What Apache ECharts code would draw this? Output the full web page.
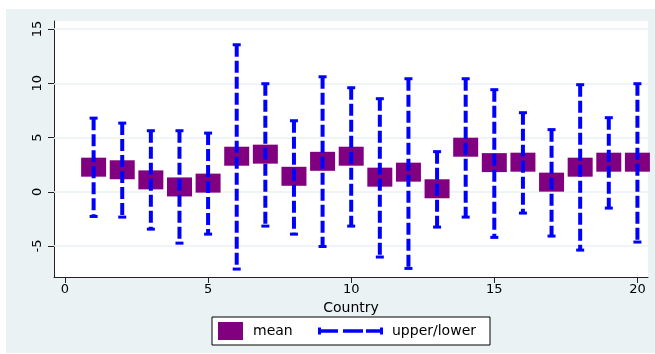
<!DOCTYPE html>
<html>
<head>
<meta charset="utf-8">
<script src="https://cdn.jsdelivr.net/npm/echarts@6/dist/echarts.min.js"></script>
<style>
  html, body { margin: 0; padding: 0; background: #ffffff; }
  #chart { width: 655px; height: 354px; }
</style>
</head>
<body>
<div id="chart"></div>
<script>
// Country index, group means and confidence bounds
const countries = [1, 2, 3, 4, 5, 6, 7, 8, 9, 10, 11, 12, 13, 14, 15, 16, 17, 18, 19, 20];
const meanValues = [2.27, 2.03, 1.10, 0.45, 0.80, 3.28, 3.47, 1.43, 2.81, 3.28,
                    1.35, 1.81, 0.28, 4.11, 2.69, 2.73, 0.89, 2.27, 2.73, 2.73];
const upperValues = [6.79, 6.33, 5.63, 5.63, 5.41, 13.55, 9.96, 6.55, 10.60, 9.59,
                     8.58, 10.42, 3.70, 10.42, 9.41, 7.29, 5.73, 9.87, 6.83, 9.96];
const lowerValues = [-2.27, -2.33, -3.44, -4.73, -3.90, -7.12, -3.16, -3.90, -5.04, -3.16,
                     -6.01, -7.06, -3.25, -2.33, -4.20, -1.96, -4.08, -5.37, -1.50, -4.63];
const xTicks = [0, 5, 10, 15, 20];
const yTicks = [-5, 0, 5, 10, 15];
const xTitle = 'Country';
const meanName = 'mean';
const boundsName = 'upper/lower';

const BG = '#EAF2F3';
const PURPLE = '#800080';
const BLUE = '#0000FF';
const FONT = 'DejaVu Sans';

const chart = echarts.init(document.getElementById('chart'), null, { renderer: 'canvas' });

// Legend glyph for the dashed range line with end caps
const rangeIcon = 'path://M0,0H3V7H0Z M0,1.75H20V5.25H0Z M25,1.75H45V5.25H25Z M48,1.75H65V5.25H48Z M62,0H65V7H62Z';

const option = {
  animation: false,
  backgroundColor: 'transparent',
  graphic: [
    { type: 'rect', z: -100, shape: { x: 6, y: 9, width: 649, height: 344 }, style: { fill: BG }, silent: true },
    { type: 'rect', shape: { x: 212, y: 317, width: 278, height: 28 }, style: { fill: '#ffffff', stroke: '#000000', lineWidth: 1 }, silent: true }
  ],
  grid: {
    left: 54, right: 7, top: 21, bottom: 77,
    show: true, backgroundColor: '#ffffff', borderWidth: 0,
    containLabel: false, outerBoundsMode: 'none'
  },
  legend: [
    {
      data: [{ name: meanName, icon: 'rect' }],
      left: 218, top: 322, padding: 0,
      itemWidth: 25, itemHeight: 18,
      selectedMode: false,
      textStyle: { fontFamily: FONT, fontSize: 14, color: '#000', padding: [0, 0, 0, 5] }
    },
    {
      data: [{ name: boundsName, icon: rangeIcon, itemStyle: { color: BLUE, borderWidth: 0 } }],
      left: 318, top: 324, padding: 0,
      itemWidth: 65, itemHeight: 7,
      selectedMode: false,
      textStyle: { fontFamily: FONT, fontSize: 14, color: '#000', padding: [0, 0, 0, 4] }
    }
  ],
  xAxis: {
    type: 'value',
    min: -0.384, max: 20.37,
    name: xTitle, nameLocation: 'middle', nameGap: 20,
    nameTextStyle: { fontFamily: FONT, fontSize: 14, color: '#000' },
    axisLine: { show: true, onZero: false, lineStyle: { color: '#222', width: 1 } },
    axisTick: { show: true, length: 6, customValues: xTicks, lineStyle: { color: '#222', width: 1 } },
    axisLabel: { customValues: xTicks, margin: 6, fontFamily: FONT, fontSize: 13, color: '#000' },
    splitLine: { show: false }
  },
  yAxis: {
    type: 'value',
    min: -7.85, max: 15.74,
    axisLine: { show: true, onZero: false, lineStyle: { color: '#222', width: 1 } },
    axisTick: { show: true, length: 6, customValues: yTicks, lineStyle: { color: '#222', width: 1 } },
    axisLabel: { customValues: yTicks, rotate: 90, margin: 10, fontFamily: FONT, fontSize: 13, color: '#000' },
    splitLine: { show: false }
  },
  series: [
    {
      // horizontal reference lines at the labelled y values, kept beneath the marks
      name: 'grid',
      type: 'line',
      data: [],
      z: 1,
      silent: true,
      markLine: {
        z: 1,
        silent: true,
        symbol: 'none',
        label: { show: false },
        lineStyle: { color: BG, width: 1.5, type: 'solid' },
        emphasis: { disabled: true },
        data: yTicks.map(v => ({ yAxis: v }))
      }
    },
    {
      name: meanName,
      type: 'scatter',
      symbol: 'rect',
      symbolSize: [25, 19],
      itemStyle: { color: PURPLE, opacity: 1 },
      data: countries.map((c, i) => [c, meanValues[i]]),
      z: 2
    },
    {
      name: boundsName,
      type: 'custom',
      z: 3,
      itemStyle: { color: BLUE },
      encode: { x: 0, y: [1, 2] },
      data: countries.map((c, i) => [c, lowerValues[i], upperValues[i]]),
      renderItem: function (params, api) {
        const x = api.value(0);
        const lo = api.value(1);
        const hi = api.value(2);
        const pHi = api.coord([x, hi]);
        const pLo = api.coord([x, lo]);
        const half = 4;
        return {
          type: 'group',
          children: [
            { type: 'line', shape: { x1: pHi[0], y1: pHi[1], x2: pLo[0], y2: pLo[1] },
              style: { stroke: BLUE, lineWidth: 4, lineDash: [12, 4], fill: null } },
            { type: 'line', shape: { x1: pHi[0] - half, y1: pHi[1], x2: pHi[0] + half, y2: pHi[1] },
              style: { stroke: BLUE, lineWidth: 3, fill: null } },
            { type: 'line', shape: { x1: pLo[0] - half, y1: pLo[1], x2: pLo[0] + half, y2: pLo[1] },
              style: { stroke: BLUE, lineWidth: 3, fill: null } }
          ]
        };
      }
    }
  ]
};

chart.setOption(option);
</script>
</body>
</html>
